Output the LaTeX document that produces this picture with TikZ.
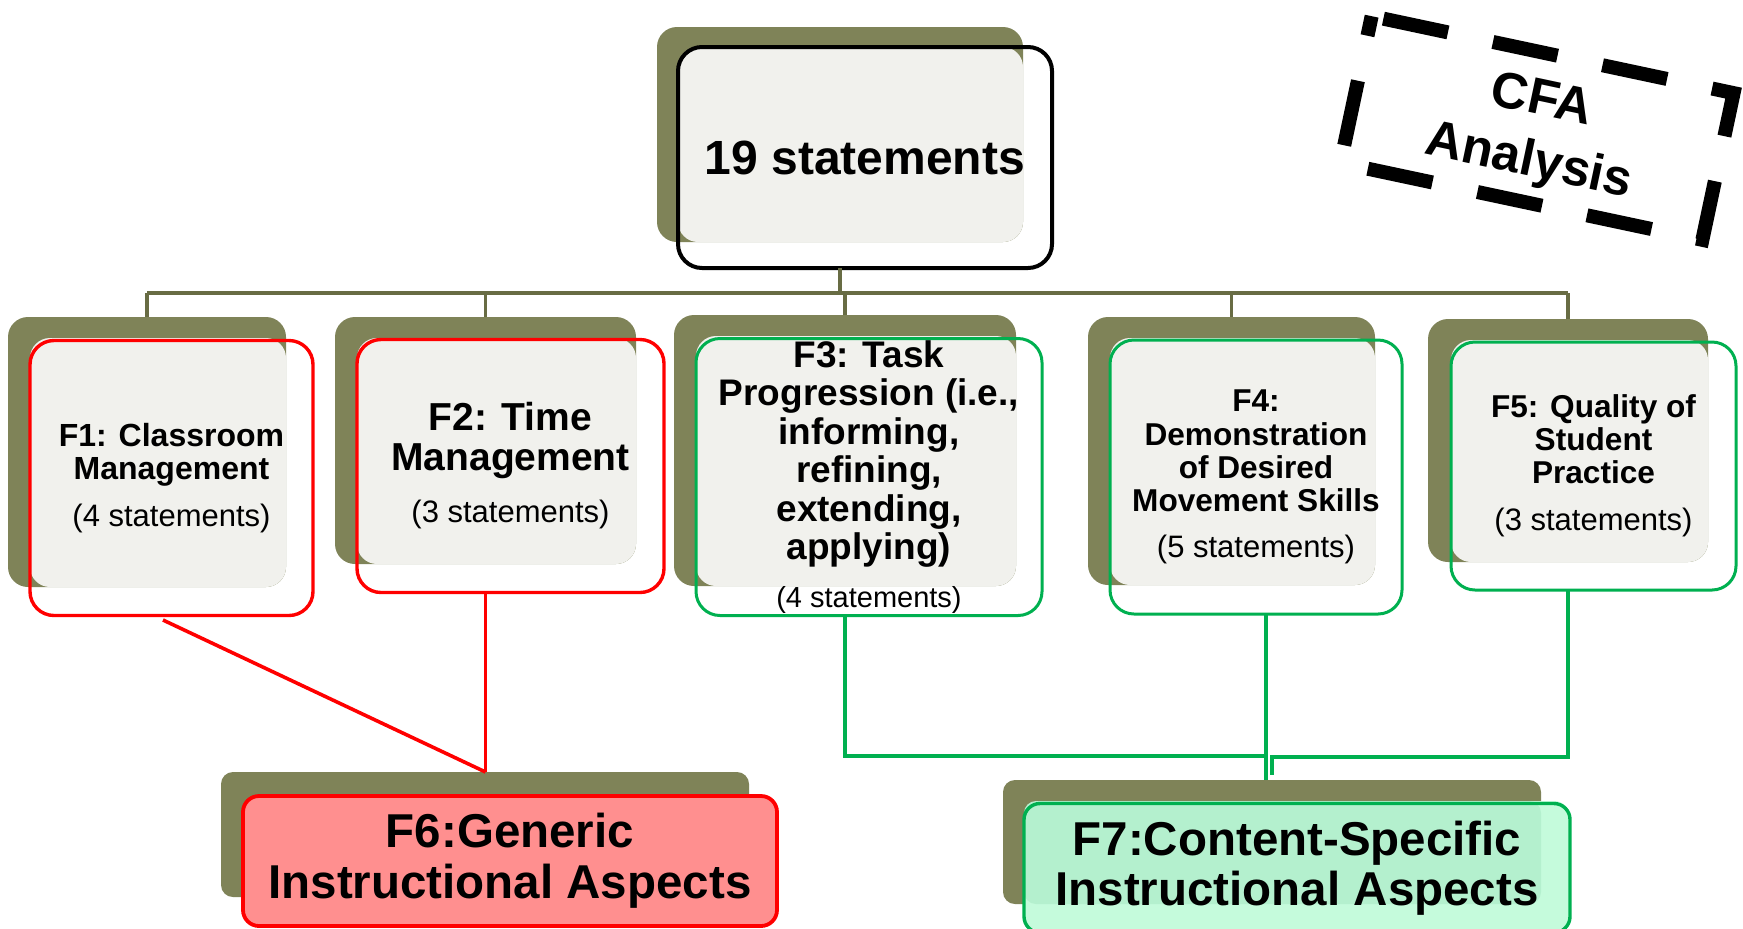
\documentclass[tikz,border=0pt]{standalone}
\usepackage{fontspec}
\setmainfont{Liberation Sans}
\usepackage{tikz}
\definecolor{olivebox}{RGB}{127,131,88}
\definecolor{oliveline}{RGB}{104,108,68}
\definecolor{paper}{RGB}{241,241,237}
\definecolor{genred}{RGB}{255,0,0}
\definecolor{csgreen}{RGB}{0,176,80}
\definecolor{genfill}{RGB}{255,143,143}
\definecolor{csfill}{RGB}{197,251,220}
\definecolor{csfilldark}{RGB}{180,240,206}
\tikzset{
  shadowbox/.style={fill=olivebox, rounded corners=10pt, inner sep=0pt, outer sep=0pt},
  paperfill/.style={fill=paper, rounded corners=10pt},
  facbox/.style={rounded corners=12pt, inner sep=0pt, outer sep=0pt, align=center},
  topbox/.style={facbox, draw=black, line width=2pt},
  genbox/.style={facbox, draw=genred, line width=1.7pt},
  csbox/.style={facbox, draw=csgreen, line width=1.5pt},
  busline/.style={line width=1.7pt, draw=oliveline},
  genline/.style={line width=1.8pt, draw=genred},
  csline/.style={line width=1.8pt, draw=csgreen},
  stampline/.style={line width=7pt, draw=black, dash pattern=on 33pt off 23pt, dash phase=23pt},
  stamptext/.style={font=\bfseries\fontsize{25.5}{31}\selectfont, align=center, rotate=-12},
}
\newcommand{\stmtcount}[1]{{\mdseries\fontsize{15.5}{16}\selectfont #1}}

\begin{document}
\begin{tikzpicture}[x=0.5pt, y=-0.5pt]
\path[fill=white] (0,0) rectangle (1743,928);
\useasboundingbox (0,0) rectangle (1743,928);

% top box
\node[shadowbox, minimum width=183pt, minimum height=107.5pt] (ts) at (840,134.5) {};
\fill[paperfill] (678,47) rectangle (1023,242);
\node[topbox, minimum width=187pt, minimum height=110.5pt, font=\bfseries\fontsize{24}{26}\selectfont] (top) at (865,157.5) {19 statements};

% factor boxes
\node[shadowbox, minimum width=139pt, minimum height=135pt] (f1s) at (147,452) {};
\node[shadowbox, minimum width=150.5pt, minimum height=123.5pt] (f2s) at (485.5,440.5) {};
\node[shadowbox, minimum width=171pt, minimum height=135.5pt] (f3s) at (845,450.5) {};
\node[shadowbox, minimum width=143.5pt, minimum height=134pt] (f4s) at (1231.5,451) {};
\node[shadowbox, minimum width=140pt, minimum height=121.5pt] (f5s) at (1568,440.5) {};
\fill[paperfill] (30,338) rectangle (286,587);
\fill[paperfill] (357,338) rectangle (636,564);
\fill[paperfill] (696,336) rectangle (1016,586);
\fill[paperfill] (1110,338) rectangle (1375,585);
\fill[paperfill] (1451,340) rectangle (1708,562);

\node[genbox, minimum width=141.5pt, minimum height=137.5pt, font=\bfseries\fontsize{16}{16.5}\selectfont] (f1) at (171.5,478)
  {F1: Classroom\\Management\\[7pt]\stmtcount{(4 statements)}};
\node[genbox, minimum width=153.5pt, minimum height=126.5pt, font=\bfseries\fontsize{19.5}{20}\selectfont] (f2) at (510.5,466)
  {F2: Time\\Management\\[6pt]\stmtcount{(3 statements)}};
\node[csbox, minimum width=173pt, minimum height=138.5pt, font=\bfseries\fontsize{18.5}{19.25}\selectfont] (f3) at (869,477)
  {F3: Task\\Progression (i.e.,\\informing,\\refining,\\extending,\\applying)\\[4.5pt]{\mdseries\fontsize{14.5}{15}\selectfont (4 statements)}};
\node[csbox, minimum width=146pt, minimum height=137pt, font=\bfseries\fontsize{15.8}{16.6}\selectfont] (f4) at (1256,477)
  {F4:\\Demonstration\\of Desired\\Movement Skills\\[6.3pt]\stmtcount{(5 statements)}};
\node[csbox, minimum width=142.5pt, minimum height=124pt, font=\bfseries\fontsize{15.8}{16.5}\selectfont] (f5) at (1593.5,466)
  {F5: Quality of\\Student\\Practice\\[7pt]\stmtcount{(3 statements)}};

% second order factors
\node[shadowbox, minimum width=264pt, minimum height=62.5pt, rounded corners=6pt] (f6s) at (485,834.5) {};
\node[facbox, draw=genred, line width=1.9pt, fill=genfill, rounded corners=8pt, minimum width=267pt, minimum height=65pt,
  font=\bfseries\fontsize{23.75}{25.5}\selectfont] (f6) at (510,861) {F6:Generic\\Instructional Aspects};
\node[shadowbox, minimum width=269pt, minimum height=62pt, rounded corners=6pt] (f7s) at (1272,842) {};
\fill[csfill, rounded corners=8pt] (1024,801) rectangle (1570,930);
\fill[csfilldark, rounded corners=6pt] (1024,801) rectangle (1541,904);
\node[facbox, draw=csgreen, line width=1.7pt, rounded corners=8pt, minimum width=273pt, minimum height=64.5pt,
  font=\bfseries\fontsize{23.75}{25}\selectfont] (f7) at (1297,868) {F7:Content-Specific\\Instructional Aspects};

% connectors
\coordinate (bus) at (840,293);
\draw[busline] (ts.south |- top.south) -- (ts.south |- bus);
\draw[busline] (f1s.north |- bus) -- (f5s.north |- bus);
\foreach \f in {f1s,f2s,f3s,f4s,f5s}
  \draw[busline] (\f.north) -- (\f.north |- bus);

\coordinate (f1foot) at (163,620);
\draw[genline] (f1foot) -- (f6s.north -| f2s.south);
\draw[genline] (f2s.south |- f2.south) -- (f6s.north -| f2s.south);

\coordinate (g3) at (1266,756);
\coordinate (g5) at (1272,757);
\draw[csline] (f3s.south |- f3.south) |- (g3);
\draw[csline] (f4.south -| g3) -- (g3 |- f7s.north);
\draw[csline] (f5s.south |- f5.south) |- (g5) -- ++(0,18);

% stamp
\begin{scope}[shift={(1537,128)}, rotate=-12]
\draw[stampline] (-185,-75) rectangle (185,75);
\end{scope}
\node[stamptext] (cfa) at (1535,133) {CFA\\Analysis};
\end{tikzpicture}
\end{document}
